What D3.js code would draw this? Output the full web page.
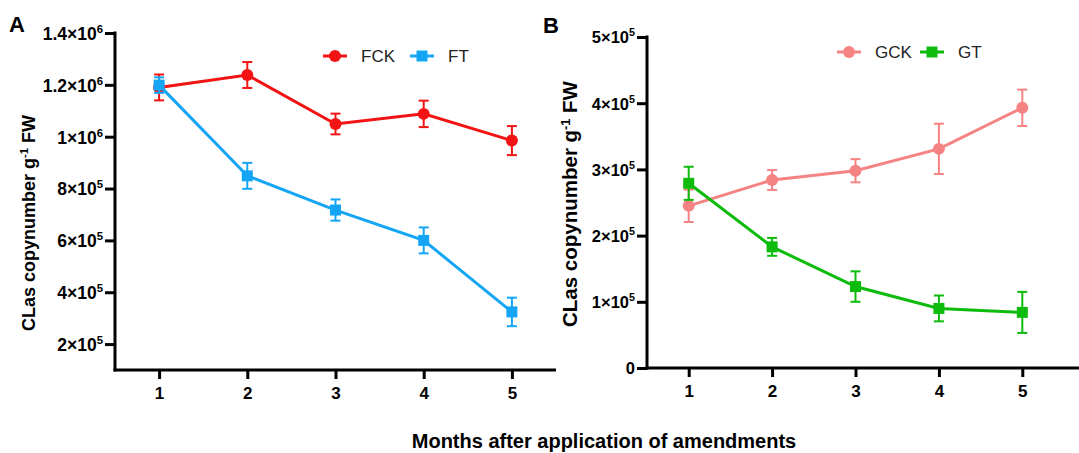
<!DOCTYPE html>
<html>
<head>
<meta charset="utf-8">
<script src="https://cdn.jsdelivr.net/npm/d3@7"></script>
<style>
  body { margin: 0; background: #fff; }
  text { font-family: "Liberation Sans", Arial, sans-serif; }
</style>
</head>
<body>
<div id="chart"></div>
<script>
// data
var months = [1, 2, 3, 4, 5];
var fck = [1190000, 1238000, 1049000, 1088000, 985000];
var fckErr = [50000, 50000, 40000, 51000, 56000];
var ft = [1199000, 849000, 717000, 600000, 324000];
var ftErr = [30000, 50000, 41000, 50000, 55000];
var gck = [245000, 284000, 298000, 331000, 393000];
var gckErr = [24500, 15000, 17500, 38000, 27500];
var gt = [279000, 183000, 123000, 90000, 84000];
var gtErr = [25000, 13500, 23000, 19500, 31000];
var ticksA = [200000, 400000, 600000, 800000, 1000000, 1200000, 1400000];
var ticksB = [0, 100000, 200000, 300000, 400000, 500000];

var W = 1079, H = 453;
var svg = d3.select("#chart").append("svg")
  .attr("width", W).attr("height", H);

// tick label like 8×10^5 with superscript
function sciLabel(sel, supSize) {
  sel.each(function(d) {
    var t = d3.select(this);
    t.text(null);
    if (d === 0) { t.text("0"); return; }
    var e = Math.floor(Math.log10(d));
    var m = +(d / Math.pow(10, e)).toFixed(1);
    t.append("tspan").text(m + "×10");
    t.append("tspan").attr("dy", -7).attr("font-size", supSize).text(e);
  });
}

function panel(opt) {
  var x = d3.scaleLinear().domain([0.5, 5.5]).range(opt.xr);
  var y = d3.scaleLinear().domain(opt.yd).range(opt.yr);
  var g = svg.append("g");

  // x axis
  var xa = g.append("g")
    .attr("transform", "translate(0," + opt.yr[0] + ")")
    .call(d3.axisBottom(x).tickValues(months).tickSize(9).tickSizeOuter(0).tickFormat(d3.format("d")));
  xa.attr("font-size", 17).attr("font-weight", "bold").attr("font-family", null);
  xa.select(".domain").remove();
  xa.append("line").attr("x1", opt.xr[0] - 1.5).attr("x2", opt.xEnd)
    .attr("stroke", "#000").attr("stroke-width", 3);
  xa.selectAll(".tick line").attr("stroke-width", 3);
  xa.selectAll(".tick text").attr("y", 17).attr("fill", "#000");

  // y axis
  var ya = g.append("g")
    .attr("transform", "translate(" + opt.xr[0] + ",0)")
    .call(d3.axisLeft(y).tickValues(opt.ticks).tickSize(10).tickSizeOuter(0));
  ya.attr("font-size", opt.tickFont).attr("font-weight", "bold").attr("font-family", null);
  ya.select(".domain").remove();
  ya.append("line").attr("y1", opt.yr[0] + 1.5).attr("y2", opt.yr[1] - 1.5)
    .attr("stroke", "#000").attr("stroke-width", 3);
  ya.selectAll(".tick line").attr("stroke-width", 3);
  ya.selectAll(".tick text").attr("x", -12).attr("dy", "0.36em").attr("fill", "#000")
    .call(sciLabel, opt.tickFont * 0.65);

  // y label
  var yl = g.append("text")
    .attr("transform", "translate(" + opt.ylx + "," + opt.yly + ") rotate(-90)")
    .attr("text-anchor", "middle")
    .attr("font-size", opt.labFont).attr("font-weight", "bold");
  yl.append("tspan").text("CLas copynumber g");
  yl.append("tspan").attr("dy", -7).attr("font-size", opt.labFont * 0.62).text("-1");
  yl.append("tspan").attr("dy", 7).text(" FW");

  // panel letter
  g.append("text").attr("x", opt.lx).attr("y", opt.ly)
    .attr("font-size", 22).attr("font-weight", "bold").text(opt.letter);

  opt.series.forEach(function(s) {
    var line = d3.line().x(function(d, i) { return x(months[i]); }).y(function(d) { return y(d); });
    g.append("path").datum(s.vals).attr("d", line)
      .attr("fill", "none").attr("stroke", s.color).attr("stroke-width", 3);

    var eb = g.append("g").selectAll("g").data(s.vals).enter().append("g");
    eb.append("line")
      .attr("x1", function(d, i) { return x(months[i]); })
      .attr("x2", function(d, i) { return x(months[i]); })
      .attr("y1", function(d, i) { return y(d + s.err[i]); })
      .attr("y2", function(d, i) { return y(d - s.err[i]); })
      .attr("stroke", s.color).attr("stroke-width", 2);
    [1, -1].forEach(function(sign) {
      eb.append("line")
        .attr("x1", function(d, i) { return x(months[i]) - 5; })
        .attr("x2", function(d, i) { return x(months[i]) + 5; })
        .attr("y1", function(d, i) { return y(d + sign * s.err[i]); })
        .attr("y2", function(d, i) { return y(d + sign * s.err[i]); })
        .attr("stroke", s.color).attr("stroke-width", 2);
    });

    if (s.shape === "circle") {
      g.selectAll(null).data(s.vals).enter().append("circle")
        .attr("cx", function(d, i) { return x(months[i]); })
        .attr("cy", function(d) { return y(d); })
        .attr("r", 6).attr("fill", s.color);
    } else {
      g.selectAll(null).data(s.vals).enter().append("rect")
        .attr("x", function(d, i) { return x(months[i]) - 5.5; })
        .attr("y", function(d) { return y(d) - 5.5; })
        .attr("width", 11).attr("height", 11).attr("fill", s.color);
    }

    // legend entry
    var lg = g.append("g").attr("transform", "translate(" + s.lgx + "," + opt.lgy + ")");
    lg.append("line").attr("x1", -12).attr("x2", 12)
      .attr("stroke", s.color).attr("stroke-width", 3);
    if (s.shape === "circle") lg.append("circle").attr("r", 6).attr("fill", s.color);
    else lg.append("rect").attr("x", -5.5).attr("y", -5.5).attr("width", 11).attr("height", 11).attr("fill", s.color);
    lg.append("text").attr("x", 26).attr("dy", "0.36em")
      .attr("font-size", 17).attr("fill", "#222").text(s.name);
  });
}

panel({
  letter: "A", lx: 9, ly: 32,
  xr: [115, 556], xEnd: 556,
  yd: [100000, 1400000], yr: [370, 33], ticks: ticksA,
  tickFont: 17.5, labFont: 18,
  ylx: 35, yly: 223, lgy: 56,
  series: [
    { name: "FCK", vals: fck, err: fckErr, color: "#f21414", shape: "circle", lgx: 335 },
    { name: "FT", vals: ft, err: ftErr, color: "#14a5f5", shape: "rect", lgx: 422 }
  ]
});

panel({
  letter: "B", lx: 543, ly: 33,
  xr: [647, 1064], xEnd: 1079,
  yd: [0, 500000], yr: [368, 37], ticks: ticksB,
  tickFont: 16.5, labFont: 20.5,
  ylx: 577, yly: 204, lgy: 52,
  series: [
    { name: "GCK", vals: gck, err: gckErr, color: "#f58383", shape: "circle", lgx: 849 },
    { name: "GT", vals: gt, err: gtErr, color: "#0cbb0c", shape: "rect", lgx: 932 }
  ]
});

svg.append("text").attr("x", 604).attr("y", 448)
  .attr("text-anchor", "middle")
  .attr("font-size", 20).attr("font-weight", "bold")
  .text("Months after application of amendments");
</script>
</body>
</html>
